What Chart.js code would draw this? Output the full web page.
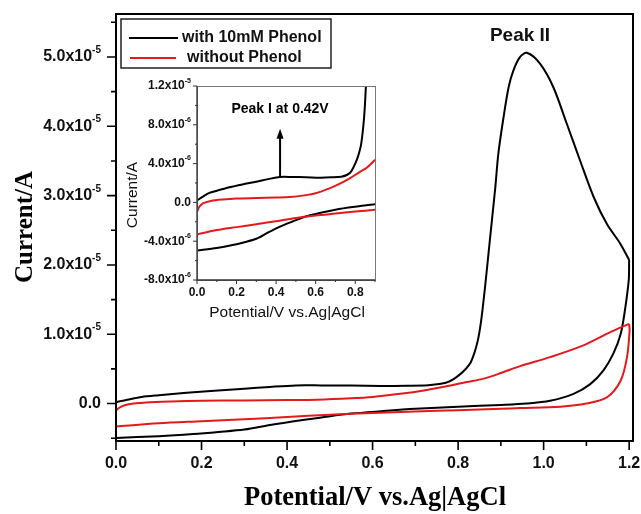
<!DOCTYPE html>
<html>
<head>
<meta charset="utf-8">
<script src="https://cdn.jsdelivr.net/npm/chart.js@4.4.1/dist/chart.umd.min.js"></script>
<style>
  html, body { margin: 0; padding: 0; background: #fff; }
  #wrap { position: relative; width: 641px; height: 514px; }
  #main { position: absolute; left: 0; top: 0; }
  #inset { position: absolute; left: 120px; top: 76px; }
</style>
</head>
<body>
<div id="wrap">
  <canvas id="main" width="641" height="514"></canvas>
  <canvas id="inset" width="270" height="250"></canvas>
</div>
<script>
// CV with 10mM phenol: anodic sweep 0 -> 1.2 V, then back to 0 V
const phenolFwdV = [0.00, 0.03, 0.06, 0.10, 0.165, 0.23, 0.30, 0.36, 0.42, 0.48, 0.55, 0.62, 0.68, 0.73, 0.76, 0.78, 0.80, 0.815, 0.83, 0.845, 0.854, 0.863, 0.871, 0.879, 0.887, 0.894, 0.905, 0.918, 0.929, 0.945, 0.961, 0.992, 1.023, 1.054, 1.085, 1.117, 1.148, 1.179, 1.20];
const phenolFwdI = [0.2e-6, 0.6e-6, 0.95e-6, 1.2e-6, 1.56e-6, 1.85e-6, 2.13e-6, 2.4e-6, 2.62e-6, 2.62e-6, 2.6e-6, 2.55e-6, 2.58e-6, 2.65e-6, 2.85e-6, 3.2e-6, 4.0e-6, 4.8e-6, 6.0e-6, 8.8e-6, 1.2e-5, 1.68e-5, 2.16e-5, 2.64e-5, 3.12e-5, 3.6e-5, 4.08e-5, 4.56e-5, 4.8e-5, 5.0e-5, 5.06e-5, 4.9e-5, 4.56e-5, 4.04e-5, 3.51e-5, 2.98e-5, 2.59e-5, 2.31e-5, 2.07e-5];
const phenolRevV = [1.20, 1.199, 1.19, 1.18, 1.163, 1.14, 1.109, 1.07, 1.015, 0.96, 0.90, 0.80, 0.70, 0.62, 0.55, 0.48, 0.42, 0.36, 0.30, 0.24, 0.18, 0.10, 0.00];
const phenolRevI = [2.07e-5, 1.78e-5, 1.34e-5, 1.0e-5, 0.72e-5, 0.48e-5, 0.28e-5, 0.14e-5, 0.04e-5, 0.0, -0.2e-6, -0.45e-6, -0.75e-6, -1.1e-6, -1.45e-6, -2.0e-6, -2.5e-6, -3.1e-6, -3.75e-6, -4.1e-6, -4.4e-6, -4.7e-6, -4.95e-6];

// CV without phenol (blank electrolyte)
const blankFwdV = [0.00, 0.01, 0.03, 0.07, 0.13, 0.20, 0.30, 0.40, 0.47, 0.55, 0.60, 0.67, 0.72, 0.77, 0.82, 0.86, 0.90, 0.945, 1.015, 1.093, 1.156, 1.20];
const blankFwdI = [-1.0e-6, -0.5e-6, -0.1e-6, 0.15e-6, 0.3e-6, 0.4e-6, 0.45e-6, 0.5e-6, 0.55e-6, 0.75e-6, 0.95e-6, 1.45e-6, 1.9e-6, 2.45e-6, 3.1e-6, 3.6e-6, 4.4e-6, 5.4e-6, 6.7e-6, 8.4e-6, 1.03e-5, 1.15e-5];
const blankRevV = [1.20, 1.201, 1.195, 1.18, 1.148, 1.10, 1.039, 0.945, 0.90, 0.80, 0.70, 0.60, 0.50, 0.40, 0.30, 0.20, 0.10, 0.00];
const blankRevI = [1.15e-5, 1.05e-5, 0.67e-5, 0.33e-5, 0.09e-5, 0.0, -0.45e-6, -0.65e-6, -0.75e-6, -0.95e-6, -1.15e-6, -1.35e-6, -1.6e-6, -1.95e-6, -2.25e-6, -2.55e-6, -2.85e-6, -3.3e-6];

const seriesNames = ["with 10mM Phenol", "without Phenol"];

// axis ticks
const mainXTicks = [0, 0.2, 0.4, 0.6, 0.8, 1.0, 1.2];
const mainYTicks = [0, 1e-5, 2e-5, 3e-5, 4e-5, 5e-5];
const mainYLabels = ["0.0", "1.0x10^-5", "2.0x10^-5", "3.0x10^-5", "4.0x10^-5", "5.0x10^-5"];
const insetXTicks = [0, 0.2, 0.4, 0.6, 0.8];
const insetYTicks = [-8e-6, -4e-6, 0, 4e-6, 8e-6, 1.2e-5];
const insetYLabels = ["-8.0x10^-6", "-4.0x10^-6", "0.0", "4.0x10^-6", "8.0x10^-6", "1.2x10^-5"];

// Peak I marker in the inset
const peakIV = 0.42;
const peakIFrom = 2.62e-6;
const peakITo = 7.6e-6;

const BLACK = "#000000";
const RED = "#e3191c";
const SANS = '"Liberation Sans", Arial, sans-serif';
const SERIF = '"Liberation Serif", "Times New Roman", serif';

function points(xs, ys) {
  return xs.map((x, i) => ({ x, y: ys[i] }));
}

function cvDatasets() {
  const line = (label, color, xs, ys) => ({
    label,
    data: points(xs, ys),
    borderColor: color,
    borderWidth: 2,
    showLine: true,
    pointRadius: 0,
    tension: 0.3,
    fill: false,
  });
  return [
    line(seriesNames[1], RED, blankFwdV, blankFwdI),
    line(seriesNames[1], RED, blankRevV, blankRevI),
    line(seriesNames[0], BLACK, phenolFwdV, phenolFwdI),
    line(seriesNames[0], BLACK, phenolRevV, phenolRevI),
  ];
}

function minorTicks(majors, min, max) {
  const step = majors[1] - majors[0];
  const out = [];
  for (let v = majors[0] - step / 2; v <= max + 1e-12; v += step) {
    if (v >= min - 1e-12) out.push(v);
  }
  return out;
}

// "1.0x10^-5" -> base text plus raised exponent
function drawSci(ctx, text, x, y, size, align) {
  const [base, sup = ""] = text.split("^");
  const supSize = Math.round(size * 0.62);
  ctx.font = `bold ${size}px ${SANS}`;
  const wb = ctx.measureText(base).width;
  ctx.font = `bold ${supSize}px ${SANS}`;
  const ws = ctx.measureText(sup).width;
  let left = x;
  if (align === "right") left = x - wb - ws;
  if (align === "center") left = x - (wb + ws) / 2;
  ctx.textAlign = "left";
  ctx.textBaseline = "middle";
  ctx.font = `bold ${size}px ${SANS}`;
  ctx.fillText(base, left, y);
  if (sup) {
    ctx.font = `bold ${supSize}px ${SANS}`;
    ctx.fillText(sup, left + wb, y - size * 0.42);
  }
}

function drawTickMarks(ctx, chart, cfg) {
  const { chartArea: a, scales: { x, y } } = chart;
  ctx.strokeStyle = cfg.tickColor;
  ctx.lineWidth = cfg.tickWidth;
  ctx.beginPath();
  const xMinor = minorTicks(cfg.xTicks, x.min, x.max);
  const yMinor = minorTicks(cfg.yTicks, y.min, y.max);
  cfg.xTicks.forEach((v) => {
    const px = x.getPixelForValue(v);
    ctx.moveTo(px, a.bottom);
    ctx.lineTo(px, a.bottom + cfg.major);
  });
  xMinor.forEach((v) => {
    const px = x.getPixelForValue(v);
    ctx.moveTo(px, a.bottom);
    ctx.lineTo(px, a.bottom + cfg.minor);
  });
  cfg.yTicks.forEach((v) => {
    const py = y.getPixelForValue(v);
    ctx.moveTo(a.left, py);
    ctx.lineTo(a.left - cfg.major, py);
  });
  yMinor.forEach((v) => {
    const py = y.getPixelForValue(v);
    ctx.moveTo(a.left, py);
    ctx.lineTo(a.left - cfg.minor, py);
  });
  ctx.stroke();

  ctx.fillStyle = "#111";
  cfg.xTicks.forEach((v) => {
    drawSci(ctx, v.toFixed(1), x.getPixelForValue(v), a.bottom + cfg.xLabelGap, cfg.fontSize, "center");
  });
  cfg.yTicks.forEach((v, i) => {
    drawSci(ctx, cfg.yLabels[i], a.left - cfg.yLabelGap, y.getPixelForValue(v), cfg.fontSize, "right");
  });
}

const mainDecor = {
  id: "mainDecor",
  afterDraw(chart) {
    const { ctx, chartArea: a } = chart;
    ctx.save();
    ctx.strokeStyle = BLACK;
    ctx.lineWidth = 2;
    ctx.strokeRect(a.left, a.top, a.right - a.left, a.bottom - a.top);

    drawTickMarks(ctx, chart, {
      xTicks: mainXTicks, yTicks: mainYTicks, yLabels: mainYLabels,
      major: 9, minor: 5, tickWidth: 1.6, tickColor: BLACK,
      fontSize: 16, xLabelGap: 23, yLabelGap: 15,
    });

    // axis titles
    ctx.fillStyle = BLACK;
    ctx.textAlign = "center";
    ctx.textBaseline = "middle";
    ctx.font = `bold 26.5px ${SERIF}`;
    ctx.fillText("Potential/V vs.Ag|AgCl", 375, 498);
    ctx.font = `bold 25px ${SERIF}`;
    ctx.save();
    ctx.translate(26, 227);
    ctx.rotate(-Math.PI / 2);
    ctx.fillText("Current/A", 0, 0);
    ctx.restore();

    // legend
    ctx.lineWidth = 1.5;
    ctx.strokeStyle = "#222";
    ctx.strokeRect(121, 19, 210, 49);
    ctx.lineWidth = 2;
    ctx.strokeStyle = BLACK;
    ctx.beginPath(); ctx.moveTo(129, 38); ctx.lineTo(178, 38); ctx.stroke();
    ctx.strokeStyle = RED;
    ctx.beginPath(); ctx.moveTo(130, 58); ctx.lineTo(176, 58); ctx.stroke();
    ctx.fillStyle = "#111";
    ctx.font = `bold 16px ${SANS}`;
    ctx.textAlign = "left";
    ctx.fillText(seriesNames[0], 182, 38);
    ctx.fillText(seriesNames[1], 187, 58);

    ctx.font = `bold 19px ${SANS}`;
    ctx.textAlign = "center";
    ctx.fillText("Peak II", 520, 36);
    ctx.restore();
  },
};

const insetDecor = {
  id: "insetDecor",
  afterDraw(chart) {
    const { ctx, chartArea: a, scales: { x, y } } = chart;
    ctx.save();
    ctx.lineWidth = 1;
    ctx.strokeStyle = "#777";
    ctx.strokeRect(a.left + 0.5, a.top + 0.5, a.right - a.left, a.bottom - a.top);
    ctx.strokeStyle = "#333";
    ctx.lineWidth = 1.3;
    ctx.beginPath();
    ctx.moveTo(a.left, a.top);
    ctx.lineTo(a.left, a.bottom);
    ctx.lineTo(a.right, a.bottom);
    ctx.stroke();

    drawTickMarks(ctx, chart, {
      xTicks: insetXTicks, yTicks: insetYTicks, yLabels: insetYLabels,
      major: 4, minor: 2, tickWidth: 1, tickColor: "#333",
      fontSize: 12, xLabelGap: 13, yLabelGap: 6,
    });

    ctx.fillStyle = "#111";
    ctx.font = `15.5px ${SANS}`;
    ctx.textAlign = "center";
    ctx.textBaseline = "middle";
    ctx.fillText("Potential/V vs.Ag|AgCl", 167, 237);
    ctx.save();
    ctx.translate(13, 119);
    ctx.rotate(-Math.PI / 2);
    ctx.fillText("Current/A", 0, 0);
    ctx.restore();

    // Peak I arrow
    const ax = x.getPixelForValue(peakIV);
    const y0 = y.getPixelForValue(peakIFrom);
    const y1 = y.getPixelForValue(peakITo);
    ctx.strokeStyle = BLACK;
    ctx.fillStyle = BLACK;
    ctx.lineWidth = 2;
    ctx.beginPath();
    ctx.moveTo(ax, y0);
    ctx.lineTo(ax, y1 + 8);
    ctx.stroke();
    ctx.beginPath();
    ctx.moveTo(ax, y1);
    ctx.lineTo(ax - 3.5, y1 + 10);
    ctx.lineTo(ax + 3.5, y1 + 10);
    ctx.closePath();
    ctx.fill();

    ctx.font = `bold 14px ${SANS}`;
    ctx.fillText("Peak I at 0.42V", ax, 33);
    ctx.restore();
  },
};

function baseOptions(padding, xRange, yRange) {
  return {
    responsive: false,
    animation: false,
    events: [],
    layout: { padding },
    plugins: { legend: { display: false }, tooltip: { enabled: false } },
    scales: {
      x: { type: "linear", display: false, min: xRange[0], max: xRange[1] },
      y: { type: "linear", display: false, min: yRange[0], max: yRange[1] },
    },
  };
}

new Chart(document.getElementById("main"), {
  type: "scatter",
  data: { datasets: cvDatasets() },
  options: baseOptions({ left: 116, top: 14, right: 8, bottom: 73 }, [0, 1.209], [-0.54e-5, 5.62e-5]),
  plugins: [mainDecor],
});

new Chart(document.getElementById("inset"), {
  type: "scatter",
  data: { datasets: cvDatasets() },
  options: baseOptions({ left: 77, top: 10, right: 15, bottom: 46 }, [0, 0.9], [-8e-6, 1.2e-5]),
  plugins: [insetDecor],
});
</script>
</body>
</html>
